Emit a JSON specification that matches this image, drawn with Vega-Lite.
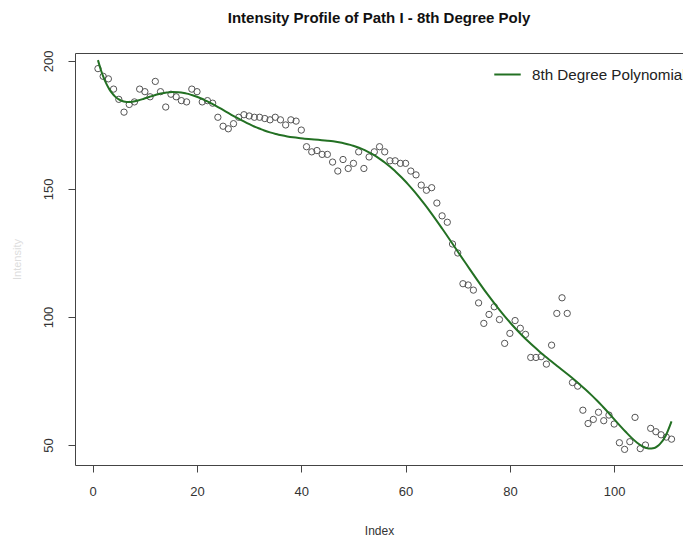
{
  "$schema": "https://vega.github.io/schema/vega-lite/v6.json",
  "width": 608,
  "height": 412,
  "autosize": "none",
  "padding": {"left": 75, "top": 53, "right": 0, "bottom": 75},
  "background": "white",
  "config": {
    "view": {"stroke": null},
    "font": "Liberation Sans",
    "axis": {"grid": false, "labelFont": "Liberation Sans", "titleFont": "Liberation Sans"}
  },
  "title": {
    "text": "Intensity Profile of Path I - 8th Degree Poly",
    "font": "Liberation Sans",
    "fontSize": 15,
    "fontWeight": "bold",
    "color": "#111",
    "anchor": "middle",
    "baseline": "alphabetic",
    "offset": 12
  },
  "data": {
    "values": [
      {"Index": 1, "Intensity": 197}, {"Index": 2, "Intensity": 194}, {"Index": 3, "Intensity": 193},
      {"Index": 4, "Intensity": 189}, {"Index": 5, "Intensity": 185}, {"Index": 6, "Intensity": 180},
      {"Index": 7, "Intensity": 183}, {"Index": 8, "Intensity": 184}, {"Index": 9, "Intensity": 189},
      {"Index": 10, "Intensity": 188}, {"Index": 11, "Intensity": 186}, {"Index": 12, "Intensity": 192},
      {"Index": 13, "Intensity": 188}, {"Index": 14, "Intensity": 182}, {"Index": 15, "Intensity": 187},
      {"Index": 16, "Intensity": 186}, {"Index": 17, "Intensity": 184.5}, {"Index": 18, "Intensity": 184},
      {"Index": 19, "Intensity": 189}, {"Index": 20, "Intensity": 188}, {"Index": 21, "Intensity": 184},
      {"Index": 22, "Intensity": 184.5}, {"Index": 23, "Intensity": 183.5}, {"Index": 24, "Intensity": 178},
      {"Index": 25, "Intensity": 174.5}, {"Index": 26, "Intensity": 173.5}, {"Index": 27, "Intensity": 175.5},
      {"Index": 28, "Intensity": 178}, {"Index": 29, "Intensity": 179}, {"Index": 30, "Intensity": 178.5},
      {"Index": 31, "Intensity": 178}, {"Index": 32, "Intensity": 178}, {"Index": 33, "Intensity": 177.5},
      {"Index": 34, "Intensity": 177}, {"Index": 35, "Intensity": 178}, {"Index": 36, "Intensity": 177},
      {"Index": 37, "Intensity": 175}, {"Index": 38, "Intensity": 177}, {"Index": 39, "Intensity": 176.5},
      {"Index": 40, "Intensity": 173}, {"Index": 41, "Intensity": 166.5}, {"Index": 42, "Intensity": 164.5},
      {"Index": 43, "Intensity": 165}, {"Index": 44, "Intensity": 163.5}, {"Index": 45, "Intensity": 163.5},
      {"Index": 46, "Intensity": 160.5}, {"Index": 47, "Intensity": 157}, {"Index": 48, "Intensity": 161.5},
      {"Index": 49, "Intensity": 158}, {"Index": 50, "Intensity": 160}, {"Index": 51, "Intensity": 164.5},
      {"Index": 52, "Intensity": 158}, {"Index": 53, "Intensity": 162.5}, {"Index": 54, "Intensity": 164.5},
      {"Index": 55, "Intensity": 166.5}, {"Index": 56, "Intensity": 164.5}, {"Index": 57, "Intensity": 161},
      {"Index": 58, "Intensity": 161}, {"Index": 59, "Intensity": 160}, {"Index": 60, "Intensity": 160},
      {"Index": 61, "Intensity": 157}, {"Index": 62, "Intensity": 155.5}, {"Index": 63, "Intensity": 151.5},
      {"Index": 64, "Intensity": 149.5}, {"Index": 65, "Intensity": 150.5}, {"Index": 66, "Intensity": 144.5},
      {"Index": 67, "Intensity": 139.5}, {"Index": 68, "Intensity": 137}, {"Index": 69, "Intensity": 128.5},
      {"Index": 70, "Intensity": 125}, {"Index": 71, "Intensity": 113}, {"Index": 72, "Intensity": 112.5},
      {"Index": 73, "Intensity": 110.5}, {"Index": 74, "Intensity": 105.5}, {"Index": 75, "Intensity": 97.5},
      {"Index": 76, "Intensity": 101}, {"Index": 77, "Intensity": 104}, {"Index": 78, "Intensity": 99},
      {"Index": 79, "Intensity": 89.7}, {"Index": 80, "Intensity": 93.6}, {"Index": 81, "Intensity": 98.6},
      {"Index": 82, "Intensity": 95.6}, {"Index": 83, "Intensity": 93.2}, {"Index": 84, "Intensity": 84.2},
      {"Index": 85, "Intensity": 84.2}, {"Index": 86, "Intensity": 84.5}, {"Index": 87, "Intensity": 81.6},
      {"Index": 88, "Intensity": 89}, {"Index": 89, "Intensity": 101.4}, {"Index": 90, "Intensity": 107.5},
      {"Index": 91, "Intensity": 101.4}, {"Index": 92, "Intensity": 74.4}, {"Index": 93, "Intensity": 73},
      {"Index": 94, "Intensity": 63.6}, {"Index": 95, "Intensity": 58.4}, {"Index": 96, "Intensity": 60},
      {"Index": 97, "Intensity": 62.8}, {"Index": 98, "Intensity": 59.5}, {"Index": 99, "Intensity": 61.7},
      {"Index": 100, "Intensity": 58.2}, {"Index": 101, "Intensity": 50.9}, {"Index": 102, "Intensity": 48.3},
      {"Index": 103, "Intensity": 51.3}, {"Index": 104, "Intensity": 60.8}, {"Index": 105, "Intensity": 48.6},
      {"Index": 106, "Intensity": 50}, {"Index": 107, "Intensity": 56.5}, {"Index": 108, "Intensity": 55.2},
      {"Index": 109, "Intensity": 54}, {"Index": 110, "Intensity": 53.1}, {"Index": 111, "Intensity": 52.3}
    ]
  },
  "layer": [
    {
      "mark": {"type": "point", "shape": "circle", "filled": false, "stroke": "#555", "strokeWidth": 1, "size": 40, "opacity": 1},
      "encoding": {
        "x": {
          "field": "Index", "type": "quantitative",
          "scale": {"domain": [-3.4, 113.2], "nice": false, "zero": false},
          "axis": {
            "orient": "bottom", "values": [0, 20, 40, 60, 80, 100], "domain": true, "domainColor": "#444",
            "tickColor": "#444", "tickSize": 7, "labelFontSize": 13, "labelColor": "#333", "labelPadding": 13,
            "title": "Index", "titleFontSize": 12, "titleFontWeight": "normal", "titleColor": "#333", "titlePadding": 27
          }
        },
        "y": {
          "field": "Intensity", "type": "quantitative",
          "scale": {"domain": [42.2, 203.1], "nice": false, "zero": false},
          "axis": {
            "orient": "left", "values": [50, 100, 150, 200], "domain": true, "domainColor": "#444",
            "tickColor": "#444", "tickSize": 7, "labelFontSize": 13, "labelColor": "#333", "labelAngle": -90,
            "labelAlign": "center", "labelBaseline": "bottom", "labelPadding": 13,
            "title": "Intensity", "titleFontSize": 11, "titleFontWeight": "normal", "titleColor": "#dddddd", "titlePadding": 20
          }
        }
      }
    },
    {
      "transform": [
        {"regression": "Intensity", "on": "Index", "method": "poly", "order": 8}
      ],
      "mark": {"type": "line", "strokeWidth": 2, "interpolate": "monotone"},
      "encoding": {
        "x": {
          "field": "Index", "type": "quantitative",
          "axis": {"orient": "top", "domain": true, "domainColor": "#444", "ticks": false, "labels": false, "title": null}
        },
        "y": {"field": "Intensity", "type": "quantitative"},
        "color": {
          "datum": "8th Degree Polynomial",
          "scale": {"range": ["#237023"]},
          "legend": {
            "orient": "none", "legendX": 418, "legendY": 7, "title": null,
            "symbolType": "stroke", "symbolStrokeWidth": 2, "symbolSize": 700,
            "labelFontSize": 15.2, "labelColor": "#222", "labelOffset": 10, "labelLimit": 400
          }
        }
      }
    }
  ],
  "resolve": {"axis": {"x": "independent"}}
}
